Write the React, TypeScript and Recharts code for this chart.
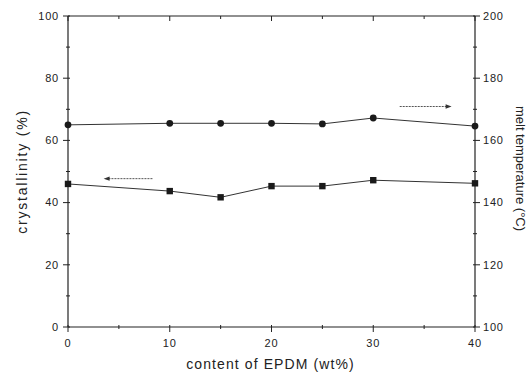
import { ComposedChart, Line, XAxis, YAxis, ReferenceLine } from 'recharts'

// wt% EPDM
const epdmContent = [0, 10, 15, 20, 25, 30, 40]
const crystallinity = [46.0, 43.7, 41.7, 45.3, 45.3, 47.2, 46.2]
const meltTemp = [165.0, 165.5, 165.5, 165.5, 165.3, 167.2, 164.6]

const xTicks = [0, 5, 10, 15, 20, 25, 30, 35, 40]
const leftTicks = [0, 10, 20, 30, 40, 50, 60, 70, 80, 90, 100]
const rightTicks = [100, 110, 120, 130, 140, 150, 160, 170, 180, 190, 200]

// arrows pointing to the axis each series belongs to
const arrowFrom = [8.3, 32.6]
const arrowTo = [3.5, 37.7]
const arrowLevel = [47.7, 170.9]
const arrowAxis = ['left', 'right']

const data = epdmContent.map((x, i) => ({ x, cryst: crystallinity[i], tm: meltTemp[i] }))

const INK = '#222'
const FONT = '"Liberation Sans", Arial, sans-serif'

const BottomTick = ({ x, y, payload }: any) => {
  const major = payload.value % 10 === 0
  return (
    <g>
      <line x1={x} x2={x} y1={y - (major ? 2 : 2)} y2={y + (major ? 5 : 2)} stroke={INK} strokeWidth={1} />
      {major && (
        <text x={x} y={y + 20} textAnchor="middle" fontSize={11} letterSpacing={0.8} fill={INK} fontFamily={FONT}>
          {payload.value}
        </text>
      )}
    </g>
  )
}

const TopTick = ({ x, y, payload }: any) => {
  const major = payload.value % 10 === 0
  return <line x1={x} x2={x} y1={y} y2={y + (major ? 5 : 3)} stroke={INK} strokeWidth={1} />
}

const LeftTick = ({ x, y, payload }: any) => {
  const major = payload.value % 20 === 0
  return (
    <g>
      <line x1={x - (major ? 5 : 2)} x2={x + 2} y1={y} y2={y} stroke={INK} strokeWidth={1} />
      {major && (
        <text x={x - 9} y={y} dy="0.35em" textAnchor="end" fontSize={11} letterSpacing={0.8} fill={INK} fontFamily={FONT}>
          {payload.value}
        </text>
      )}
    </g>
  )
}

const RightTick = ({ x, y, payload }: any) => {
  const major = payload.value % 20 === 0
  return (
    <g>
      <line x1={x - 2} x2={x + (major ? 5 : 2)} y1={y} y2={y} stroke={INK} strokeWidth={1} />
      {major && (
        <text x={x + 8} y={y} dy="0.35em" textAnchor="start" fontSize={11} letterSpacing={0.8} fill={INK} fontFamily={FONT}>
          {payload.value}
        </text>
      )}
    </g>
  )
}

const SquareDot = ({ cx, cy, index }: any) => (
  <rect key={`s${index}`} x={cx - 3.2} y={cy - 3.2} width={6.4} height={6.4} fill="#1a1a1a" />
)

const CircleDot = ({ cx, cy, index }: any) => (
  <circle key={`c${index}`} cx={cx} cy={cy} r={3.4} fill="#1a1a1a" />
)

const Arrow = ({ x1, y1, x2, y2 }: any) => {
  const dir = x2 > x1 ? 1 : -1
  return (
    <g>
      <line x1={x1} y1={y1} x2={x2 - dir * 4} y2={y2} stroke="#555" strokeWidth={1} strokeDasharray="2 1" />
      <polygon points={`${x2},${y2} ${x2 - dir * 6},${y2 - 2.2} ${x2 - dir * 6},${y2 + 2.2}`} fill="#333" />
    </g>
  )
}

export default function App() {
  return (
    <div style={{ position: 'absolute', left: 0, top: 0, background: '#fff' }}>
      <ComposedChart width={529} height={372} data={data} margin={{ top: 0, right: 0, bottom: 0, left: 0 }}>
        <XAxis
          xAxisId="bottom"
          dataKey="x"
          type="number"
          domain={[0, 40]}
          ticks={xTicks}
          interval={0}
          height={45}
          tickSize={0}
          tickMargin={0}
          tickLine={false}
          axisLine={{ stroke: INK, strokeWidth: 1.2 }}
          tick={(p: any) => <BottomTick {...p} />}
          label={{
            content: ({ viewBox }: any) => (
              <text
                x={viewBox.x + viewBox.width / 2 - 1}
                y={viewBox.y + 42}
                textAnchor="middle"
                fontSize={14}
                letterSpacing={1.1}
                fill={INK}
                fontFamily={FONT}
              >
                content of EPDM (wt%)
              </text>
            ),
          }}
        />
        <XAxis
          xAxisId="top"
          orientation="top"
          dataKey="x"
          type="number"
          domain={[0, 40]}
          ticks={xTicks}
          interval={0}
          height={16}
          tickSize={0}
          tickMargin={0}
          tickLine={false}
          axisLine={{ stroke: INK, strokeWidth: 1.2 }}
          tick={(p: any) => <TopTick {...p} />}
        />
        <YAxis
          yAxisId="left"
          domain={[0, 100]}
          ticks={leftTicks}
          interval={0}
          width={68}
          tickSize={0}
          tickMargin={0}
          tickLine={false}
          axisLine={{ stroke: INK, strokeWidth: 1.2 }}
          tick={(p: any) => <LeftTick {...p} />}
          label={{
            content: ({ viewBox }: any) => {
              const cy = viewBox.y + viewBox.height / 2
              return (
                <text
                  x={22}
                  y={cy}
                  transform={`rotate(-90 22 ${cy})`}
                  textAnchor="middle"
                  dominantBaseline="central"
                  fontSize={14}
                  letterSpacing={1.8}
                  fill={INK}
                  fontFamily={FONT}
                >
                  crystallinity (%)
                </text>
              )
            },
          }}
        />
        <YAxis
          yAxisId="right"
          orientation="right"
          domain={[100, 200]}
          ticks={rightTicks}
          interval={0}
          width={54}
          tickSize={0}
          tickMargin={0}
          tickLine={false}
          axisLine={{ stroke: INK, strokeWidth: 1.2 }}
          tick={(p: any) => <RightTick {...p} />}
          label={{
            content: ({ viewBox }: any) => {
              const cy = viewBox.y + viewBox.height / 2 - 3
              return (
                <text
                  x={520}
                  y={cy}
                  transform={`rotate(90 520 ${cy})`}
                  textAnchor="middle"
                  dominantBaseline="central"
                  fontSize={13}
                  fill={INK}
                  fontFamily={FONT}
                >
                  melt temperature (°C)
                </text>
              )
            },
          }}
        />
        {arrowFrom.map((from, i) => (
          <ReferenceLine
            key={`arrow${i}`}
            xAxisId="bottom"
            yAxisId={arrowAxis[i]}
            segment={[
              { x: from, y: arrowLevel[i] },
              { x: arrowTo[i], y: arrowLevel[i] },
            ]}
            shape={(p: any) => <Arrow {...p} />}
          />
        ))}
        <Line
          xAxisId="bottom"
          yAxisId="right"
          dataKey="tm"
          type="linear"
          stroke="#333"
          strokeWidth={1}
          dot={(p: any) => <CircleDot {...p} />}
          activeDot={false}
          isAnimationActive={false}
        />
        <Line
          xAxisId="bottom"
          yAxisId="left"
          dataKey="cryst"
          type="linear"
          stroke="#333"
          strokeWidth={1}
          dot={(p: any) => <SquareDot {...p} />}
          activeDot={false}
          isAnimationActive={false}
        />
      </ComposedChart>
    </div>
  )
}
